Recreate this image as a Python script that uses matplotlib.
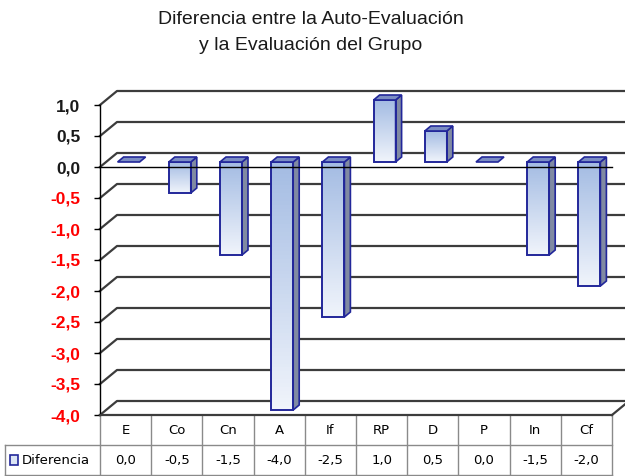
import numpy as np
import matplotlib.pyplot as plt
from matplotlib.patches import Polygon, Rectangle
from matplotlib.colors import LinearSegmentedColormap

# datos del grafico
categorias = ["E", "Co", "Cn", "A", "If", "RP", "D", "P", "In", "Cf"]
diferencia = [0.0, -0.5, -1.5, -4.0, -2.5, 1.0, 0.5, 0.0, -1.5, -2.0]
marcas_y = [1.0, 0.5, 0.0, -0.5, -1.0, -1.5, -2.0, -2.5, -3.0, -3.5, -4.0]
serie = "Diferencia"

W, H = 625, 476
fig = plt.figure(figsize=(W / 100, H / 100), dpi=100)
ax = fig.add_axes([100 / W, (H - 415) / H, 512 / W, 310 / H])

PX = 512 / 10.0   # pixeles por categoria
PY = 62.0         # pixeles por unidad
DX, DY = 17 / PX, 14 / PY          # profundidad de las paredes
FX, FY = 3 / PX, 5 / PY            # cara frontal de las barras
BX, BY = 6 / PX, 5 / PY            # fondo de las barras
hw = 11 / PX

azul = "#22279a"
grid_c = "#3c3c3c"
degradado = LinearSegmentedColormap.from_list("barra", ["#f0f4fb", "#a4bce3"])

# paredes: lineas de division en la pared lateral y del fondo
for g in marcas_y:
    ax.plot([-0.5, -0.5 + DX, 9.5 + DX + 0.3], [g, g + DY, g + DY],
            color=grid_c, lw=1.6, clip_on=False, zorder=1)
# borde derecho del piso
ax.plot([9.5, 9.5 + DX], [-4, -4 + DY], color=grid_c, lw=1.6, clip_on=False, zorder=1)
ax.plot([-0.5, 9.5], [-4, -4], color=grid_c, lw=1.6, clip_on=False, zorder=6)

# barras 3d
for i, v in enumerate(diferencia):
    x0, x1 = i - hw + FX, i + hw + FX
    arriba = max(v, 0) + FY
    abajo = min(v, 0) + FY
    if v != 0:
        grad = np.linspace(0, 1, 64).reshape(-1, 1)
        ax.imshow(grad, extent=(x0, x1, abajo, arriba), origin="lower",
                  cmap=degradado, aspect="auto", zorder=3, clip_on=False)
        ax.add_patch(Polygon([(x1, abajo), (x1 + BX, abajo + BY), (x1 + BX, arriba + BY), (x1, arriba)],
                             closed=True, facecolor="#808aa2", edgecolor=azul, lw=1.2,
                             zorder=3, clip_on=False))
        ax.add_patch(Rectangle((x0, abajo), x1 - x0, arriba - abajo, facecolor="none",
                               edgecolor=azul, lw=1.4, zorder=4, clip_on=False))
    ax.add_patch(Polygon([(x0, arriba), (x0 + BX, arriba + BY), (x1 + BX, arriba + BY), (x1, arriba)],
                         closed=True, facecolor="#7b8dc3", edgecolor=azul, lw=1.2,
                         zorder=4, clip_on=False))

# eje de categorias en cero
ax.plot([-0.5, 9.5], [0, 0], color="black", lw=1.0, zorder=5, clip_on=False)

ax.set_xlim(-0.5, 9.5)
ax.set_ylim(-4, 1)
for s in ["top", "right", "bottom"]:
    ax.spines[s].set_visible(False)
ax.spines["left"].set_color("black")
ax.spines["left"].set_linewidth(1.0)
ax.set_xticks([])
ax.set_yticks(marcas_y)
ax.set_yticklabels([f"{v:.1f}".replace(".", ",") for v in marcas_y],
                   fontfamily="Liberation Sans", fontweight="bold", fontsize=12.5)
ax.tick_params(axis="y", direction="out", length=4, width=1, pad=10)
for lab, v in zip(ax.get_yticklabels(), marcas_y):
    lab.set_color("red" if v < 0 else "#1a1a1a")
ax.patch.set_visible(False)

# tabla de datos
fila = 30 / PY
y1, y2, y3 = -4, -4 - fila, -4 - 2 * fila
xizq = -0.5 - 95 / PX
tc = "#8a8a8a"
ax.plot([xizq, 9.5], [y2, y2], color=tc, lw=1, clip_on=False)
ax.plot([xizq, 9.5], [y3, y3], color=tc, lw=1, clip_on=False)
ax.plot([xizq, xizq], [y2, y3], color=tc, lw=1, clip_on=False)
for k in range(len(categorias) + 1):
    ax.plot([k - 0.5, k - 0.5], [y1, y3], color=tc, lw=1, clip_on=False)
tabla_font = dict(fontfamily="DejaVu Sans", fontsize=9.5, color="black",
                  ha="center", va="center", clip_on=False)
for i, (c, v) in enumerate(zip(categorias, diferencia)):
    ax.text(i, (y1 + y2) / 2, c, **tabla_font)
    ax.text(i, (y2 + y3) / 2, f"{v:.1f}".replace(".", ","), **tabla_font)
# clave de la leyenda
ax.add_patch(Rectangle((-0.5 - 90 / PX, (y2 + y3) / 2 - 5 / PY), 8 / PX, 10 / PY,
                       facecolor="#dbe4f4", edgecolor=azul, lw=1.2, clip_on=False))
ax.text(-0.5 - 78 / PX, (y2 + y3) / 2, serie, fontfamily="DejaVu Sans", fontsize=9.5,
        ha="left", va="center", clip_on=False)

fig.text(311 / W, 1 - 19 / H, "Diferencia entre la Auto-Evaluación",
         fontfamily="Liberation Sans", fontsize=14, ha="center", va="center", color="#1a1a1a")
fig.text(311 / W, 1 - 46 / H, "y la Evaluación del Grupo",
         fontfamily="Liberation Sans", fontsize=14, ha="center", va="center", color="#1a1a1a")

fig.savefig("out.png", dpi=100)
